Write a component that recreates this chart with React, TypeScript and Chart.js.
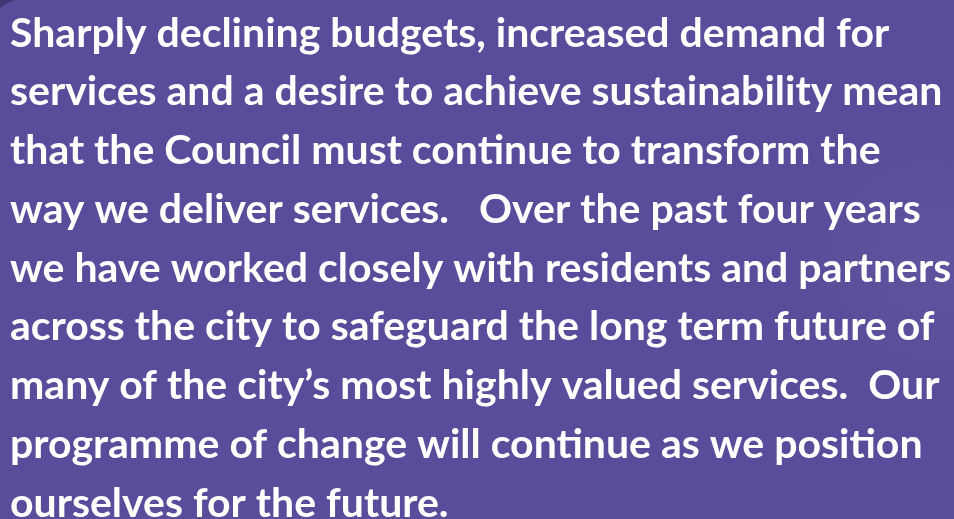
import React, { useEffect, useRef } from "react";
import { Chart, registerables } from "chart.js";

Chart.register(...registerables);

const lines: string[] = [
  "Sharply declining budgets, increased demand for",
  "services and a desire to achieve sustainability mean",
  "that the Council must continue to transform the",
  "way we deliver services.   Over the past four years",
  "we have worked closely with residents and partners",
  "across the city to safeguard the long term future of",
  "many of the city\u2019s most highly valued services.  Our",
  "programme of change will continue as we position",
  "ourselves for the future.",
];

const categories: string[] = [""];
const values: number[] = [0];

const bgPlugin = {
  id: "bgFill",
  beforeDraw(chart: any) {
    const { ctx, width, height } = chart;
    ctx.save();
    ctx.fillStyle = "#5a4c9a";
    ctx.fillRect(0, 0, width, height);
    const g = ctx.createRadialGradient(930, 260, 10, 930, 260, 140);
    g.addColorStop(0, "rgba(255,255,255,0.03)");
    g.addColorStop(1, "rgba(255,255,255,0)");
    ctx.fillStyle = g;
    ctx.fillRect(0, 0, width, height);
    ctx.fillStyle = "#3f356f";
    ctx.beginPath();
    ctx.moveTo(0, 0);
    ctx.lineTo(14, 0);
    ctx.quadraticCurveTo(6, 3, 0, 8);
    ctx.closePath();
    ctx.fill();
    ctx.restore();
  },
};

export default function App() {
  const ref = useRef<HTMLCanvasElement | null>(null);
  useEffect(() => {
    if (!ref.current) return;
    const chart = new Chart(ref.current, {
      type: "bar",
      data: {
        labels: categories,
        datasets: [{ data: values, backgroundColor: "rgba(0,0,0,0)" }],
      },
      options: {
        animation: false,
        responsive: false,
        maintainAspectRatio: false,
        layout: { padding: { left: 10, right: 0, top: 0, bottom: 0 } },
        scales: { x: { display: false }, y: { display: false } },
        plugins: {
          legend: { display: false },
          tooltip: { enabled: false },
          title: {
            display: true,
            text: lines,
            align: "start",
            color: "#ffffff",
            padding: { top: 4, bottom: 0 },
            font: { family: "Lato", size: 41, weight: "bold", lineHeight: "58.75px" },
          },
        },
      },
      plugins: [bgPlugin],
    });
    return () => chart.destroy();
  }, []);
  return (
    <div style={{ position: "fixed", left: 0, top: 0, width: 954, height: 519, overflow: "hidden" }}>
      <canvas ref={ref} width={954} height={519} style={{ display: "block" }} />
    </div>
  );
}
